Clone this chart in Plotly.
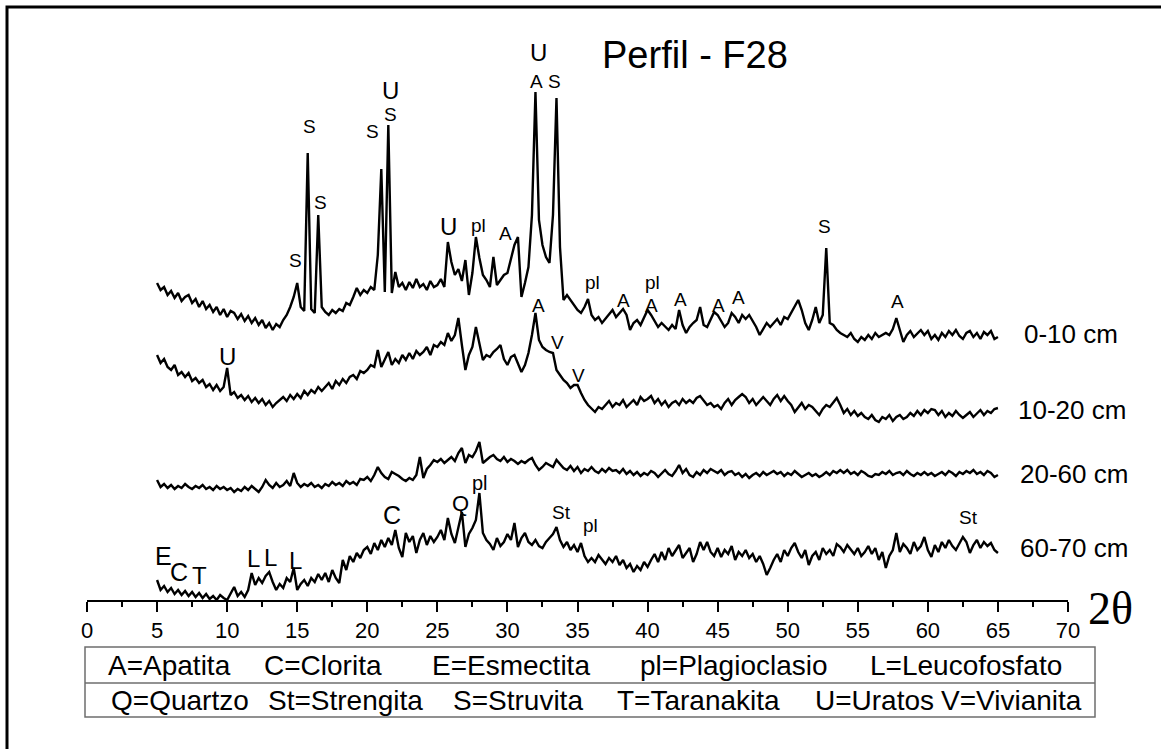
import plotly.graph_objects as go

# Scan parameters (2-theta grid of the diffractograms)
START_2THETA = 5.0
STEP_2THETA = 0.25
N_POINTS = 241
two_theta = [START_2THETA + STEP_2THETA * i for i in range(N_POINTS)]

# Intensities (arbitrary units), one row per degree
int_0_10 = [
    62, 55, 58, 50,  54, 47, 52, 44,  48, 50, 42, 46,  38, 44, 36, 40,
    33, 38, 30, 36,  28, 34, 32, 26,  31, 24, 29, 22,  27, 20, 25, 17,
    22, 15, 21, 18,  25, 30, 38, 48,  62, 38, 34, 192, 36, 32, 130, 38,
    33, 30, 35, 32,  36, 34, 42, 40,  48, 57, 50, 55,  52, 58, 55, 90,
    176, 53, 220, 52, 73, 58, 62, 55, 63, 57, 66, 58,  61, 55, 64, 58,
    60, 66, 58, 103, 83, 70, 76, 64, 85, 50, 72, 108, 87, 70, 65, 58,
    88, 60, 65, 70,  72, 85, 100, 108, 48, 62, 78, 130, 253, 125, 100, 88,
    82, 130, 247, 98, 45, 50, 45, 40, 35, 32, 38, 46,  30, 25, 28, 22,
    26, 30, 35, 28,  32, 36, 30, 15,  22, 25, 20, 28,  35, 30, 24, 18,
    22, 18, 15, 20,  16, 35, 20, 12,  18, 22, 25, 38,  20, 18, 26, 33,
    30, 24, 18, 22,  32, 28, 22, 30,  26, 30, 24, 18,  10, 16, 22, 18,
    22, 26, 20, 28,  26, 32, 38, 45,  35, 22, 15, 25,  38, 22, 30, 97,
    22, 20, 15, 12,  10, 8, 12, 6,    3, 8, 5, 10,     6, 12, 8, 10,
    12, 10, 16, 27,  15, 3, 10, 14,   8, 12, 15, 10,   14, 6, 10, 5,
    12, 8, 14, 10,   15, 9, 6, 12,    14, 8, 12, 6,    13, 10, 14, 6,
    8,
]
int_10_20 = [
    70, 62, 66, 58,  55, 60, 50, 53,  48, 52, 44, 47,  42, 45, 38, 41,
    35, 40, 34, 38,  57, 30, 33, 27,  30, 25, 29, 23,  27, 22, 26, 20,
    24, 18, 22, 25,  28, 24, 30, 26,  31, 27, 34, 30,  35, 32, 38, 34,
    38, 42, 36, 44,  40, 46, 42, 48,  50, 46, 54, 52,  55, 60, 58, 75,
    58, 65, 73, 60,  66, 62, 70, 65,  72, 66, 74, 70,  73, 78, 70, 80,
    78, 83, 80, 92,  84, 90, 107, 80, 55, 70, 78, 98,  80, 65, 70, 68,
    73, 76, 80, 66,  60, 68, 70, 62,  53, 60, 72, 90,  112, 85, 78, 75,
    73, 72, 55, 50,  45, 42, 37, 40,  40, 32, 25, 20,  16, 13, 18, 16,
    20, 24, 18, 22,  20, 25, 18, 22,  25, 20, 28, 24,  26, 29, 22, 26,
    20, 24, 18, 22,  24, 20, 26, 22,  25, 22, 27, 29,  24, 20, 22, 18,
    20, 16, 22, 26,  20, 25, 28, 31,  28, 22, 26, 20,  24, 28, 24, 20,
    26, 30, 24, 29,  24, 20, 13, 18,  22, 16, 20, 18,  14, 10, 16, 20,
    18, 22, 27, 20,  12, 16, 10, 14,  9, 12, 8, 6,     10, 5, 3, 8,
    6, 10, 4, 8,     10, 6, 8, 12,    9, 14, 10, 15,   12, 16, 15, 10,
    14, 8, 12, 9,    14, 10, 7, 10,   13, 8, 12, 15,   10, 14, 12, 16,
    17,
]
int_20_60 = [
    15, 8, 11, 7,    10, 6, 9, 7,     11, 8, 6, 9,     7, 10, 6, 8,
    5, 9, 6, 8,      5, 7, 3, 6,      4, 8, 5, 9,      6, 3, 8, 15,
    10, 7, 12, 8,    10, 14, 9, 22,   12, 8, 11, 9,    12, 8, 10, 7,
    11, 9, 13, 10,   12, 9, 14, 11,   13, 10, 16, 15,  18, 14, 20, 28,
    22, 18, 16, 23,  21, 19, 16, 14,  17, 15, 20, 38,  17, 26, 30, 35,
    33, 36, 32, 35,  38, 34, 42, 47,  32, 40, 38, 44,  53, 32, 35, 38,
    40, 36, 34, 38,  33, 36, 34, 31,  34, 32, 35, 37,  30, 25, 28, 32,
    30, 28, 35, 31,  27, 25, 29, 24,  28, 22, 26, 24,  28, 24, 22, 26,
    23, 27, 24, 25,  22, 26, 21, 24,  20, 23, 19, 22,  20, 24, 22, 18,
    22, 25, 21, 19,  24, 30, 22, 26,  20, 18, 23, 20,  25, 22, 26, 24,
    22, 25, 20, 23,  24, 20, 22, 18,  21, 17, 20, 22,  19, 23, 20, 22,
    24, 21, 23, 19,  22, 20, 24, 21,  18, 20, 22, 19,  21, 18, 20, 23,
    20, 24, 22, 25,  22, 25, 21, 23,  20, 24, 22, 19,  18, 21, 20, 23,
    21, 24, 20, 22,  23, 20, 24, 21,  19, 22, 20, 23,  20, 22, 19, 21,
    23, 20, 24, 22,  19, 23, 21, 24,  22, 25, 21, 23,  20, 24, 22, 18,
    20,
]
int_60_70 = [
    20, 10, 14, 8,   12, 6, 10, 5,    9, 4, 8, 3,      7, 2, 6, 1,
    4, 0, 5, 2,      0, 6, 13, 4,     8, 3, 10, 27,    15, 22, 17, 24,
    28, 18, 10, 16,  12, 22, 18, 32,  10, 16, 20, 14,  22, 18, 26, 20,
    27, 18, 30, 22,  17, 40, 30, 44,  38, 47, 42, 50,  53, 46, 57, 50,
    60, 53, 62, 55,  70, 52, 43, 67,  58, 64, 47, 60,  67, 55, 64, 58,
    63, 70, 60, 82,  66, 57, 72, 88,  53, 66, 72, 80,  107, 67, 60, 56,
    50, 62, 54, 58,  66, 60, 77, 53,  62, 67, 58, 55,  60, 54, 52, 58,
    62, 66, 73, 60,  53, 58, 50, 55,  48, 57, 44, 38,  42, 38, 45, 40,
    36, 42, 38, 44,  35, 40, 32, 36,  28, 34, 30, 38,  33, 40, 46, 38,
    48, 40, 52, 44,  50, 55, 42, 47,  52, 38, 46, 58,  50, 58, 48, 44,
    52, 43, 50, 46,  54, 40, 48, 44,  50, 42, 46, 38,  44, 36, 25, 32,
    40, 46, 38, 50,  44, 52, 57, 48,  42, 50, 35, 44,  48, 40, 52, 46,
    50, 44, 56, 53,  48, 55, 50, 46,  52, 44, 48, 54,  46, 52, 40, 48,
    32, 44, 50, 67,  48, 56, 52, 46,  58, 50, 54, 63,  50, 43, 55, 48,
    58, 52, 60, 54,  50, 56, 63, 58,  47, 55, 60, 52,  58, 54, 57, 50,
    47,
]

sample_names = ["0-10 cm", "10-20 cm", "20-60 cm", "60-70 cm"]
sample_intensities = [int_0_10, int_10_20, int_20_60, int_60_70]
stack_offsets = [255, 175, 105, 0]

x_ticks = list(range(0, 75, 5))

# Phase labels: (text, 2theta, height, font size)
phase_labels = [
    ("S", 14.85, 340, 19), ("S", 15.85, 474, 19), ("S", 16.63, 398, 19),
    ("S", 20.34, 469, 19), ("S", 21.63, 486, 19), ("U", 21.63, 510, 24),
    ("U", 25.77, 374, 24), ("pl", 27.91, 375, 19), ("A", 29.84, 367, 19),
    ("U", 32.19, 548, 24), ("A", 32.05, 519, 19), ("S", 33.33, 519, 19),
    ("pl", 36.05, 318, 19), ("A", 38.26, 300, 19), ("pl", 40.33, 318, 19),
    ("A", 40.26, 295, 19), ("A", 42.33, 301, 19), ("A", 45.04, 295, 19),
    ("A", 46.47, 303, 19), ("S", 52.6, 374, 19), ("A", 57.82, 299, 19),
    ("U", 10.06, 244, 24), ("A", 32.19, 295, 19), ("V", 33.55, 258, 19),
    ("V", 35.05, 225, 19),
    ("E", 5.45, 44, 25), ("C", 6.55, 28, 25), ("T", 8.0, 25, 24),
    ("L", 11.9, 42, 24), ("L", 13.1, 43, 24), ("L", 14.85, 40, 24),
    ("C", 21.77, 85, 25), ("Q", 26.62, 97, 22), ("pl", 28.05, 117, 20),
    ("St", 33.83, 88, 19), ("pl", 35.9, 75, 19), ("St", 62.88, 83, 19),
]

legend_row1 = ["A=Apatita", "C=Clorita", "E=Esmectita", "pl=Plagioclasio", "L=Leucofosfato"]
legend_row2 = ["Q=Quartzo", "St=Strengita", "S=Struvita", "T=Taranakita", "U=Uratos", "V=Vivianita"]

W, H = 1161, 749
FONT = "Liberation Sans, Arial, sans-serif"

def px(x):
    return x / W

def py(y):
    return 1 - y / H

fig = go.Figure()
for name, vals, off in zip(sample_names, sample_intensities, stack_offsets):
    fig.add_trace(go.Scatter(
        x=two_theta, y=[v + off for v in vals], mode="lines", name=name,
        line=dict(color="black", width=2.4), hoverinfo="skip", showlegend=False,
    ))

annotations = []
for txt, xv, yv, fs in phase_labels:
    annotations.append(dict(x=xv, y=yv, xref="x", yref="y", text=txt, showarrow=False,
                            font=dict(family=FONT, size=fs, color="black"),
                            xanchor="center", yanchor="middle"))

# sample labels at the right
label_pos = [(1022, 334), (1016, 410), (1018, 474), (1018, 548)]
for name, (lx, ly) in zip(sample_names, label_pos):
    annotations.append(dict(x=px(lx), y=py(ly), xref="paper", yref="paper", text=name,
                            showarrow=False, xanchor="left", yanchor="middle",
                            font=dict(family=FONT, size=26, color="black")))

# title
annotations.append(dict(x=px(600), y=py(55), xref="paper", yref="paper", text="Perfil - F28",
                        showarrow=False, xanchor="left", yanchor="middle",
                        font=dict(family=FONT, size=38, color="black")))
# axis title 2θ
annotations.append(dict(x=px(1086), y=py(608), xref="paper", yref="paper", text="2θ",
                        showarrow=False, xanchor="left", yanchor="middle",
                        font=dict(family="Liberation Serif, Times New Roman, serif", size=46, color="black")))

# legend table
row1_x = [106, 262, 430, 638, 868]
row2_x = [109, 266, 451, 615, 813, 939]
for txt, lx in zip(legend_row1, row1_x):
    annotations.append(dict(x=px(lx), y=py(665), xref="paper", yref="paper", text=txt,
                            showarrow=False, xanchor="left", yanchor="middle",
                            font=dict(family=FONT, size=28, color="black")))
for txt, lx in zip(legend_row2, row2_x):
    annotations.append(dict(x=px(lx), y=py(700), xref="paper", yref="paper", text=txt,
                            showarrow=False, xanchor="left", yanchor="middle",
                            font=dict(family=FONT, size=28, color="black")))

shapes = [
    # outer frame (only left/top visible)
    dict(type="rect", xref="paper", yref="paper", x0=px(7), x1=px(1200), y0=py(7), y1=py(800),
         line=dict(color="black", width=3), fillcolor="rgba(0,0,0,0)"),
    # legend table
    dict(type="rect", xref="paper", yref="paper", x0=px(85), x1=px(1095), y0=py(647), y1=py(717),
         line=dict(color="#6e6e6e", width=1.5), fillcolor="rgba(0,0,0,0)"),
    dict(type="line", xref="paper", yref="paper", x0=px(85), x1=px(1095), y0=py(683), y1=py(683),
         line=dict(color="#6e6e6e", width=1.5)),
]

fig.update_layout(
    width=W, height=H,
    margin=dict(l=0, r=0, t=0, b=0, autoexpand=False),
    paper_bgcolor="white", plot_bgcolor="white",
    annotations=annotations, shapes=shapes,
    xaxis=dict(domain=[px(87), px(1068)], range=[0, 70], tickmode="array", tickvals=x_ticks,
               ticktext=[str(t) for t in x_ticks],
               showline=True, linecolor="black", linewidth=2, ticks="outside",
               ticklen=10, tickwidth=1.5, tickcolor="black", showgrid=False, zeroline=False,
               tickfont=dict(family="Liberation Sans", size=22, color="black"),
               minor=dict(ticks="outside", ticklen=5, tickwidth=1.5, tickcolor="black",
                          dtick=2.5, showgrid=False)),
    yaxis=dict(domain=[py(600), 1], range=[0, 600], visible=False, showgrid=False,
               zeroline=False),
)

fig.write_html("out.html", config={"displayModeBar": False})
